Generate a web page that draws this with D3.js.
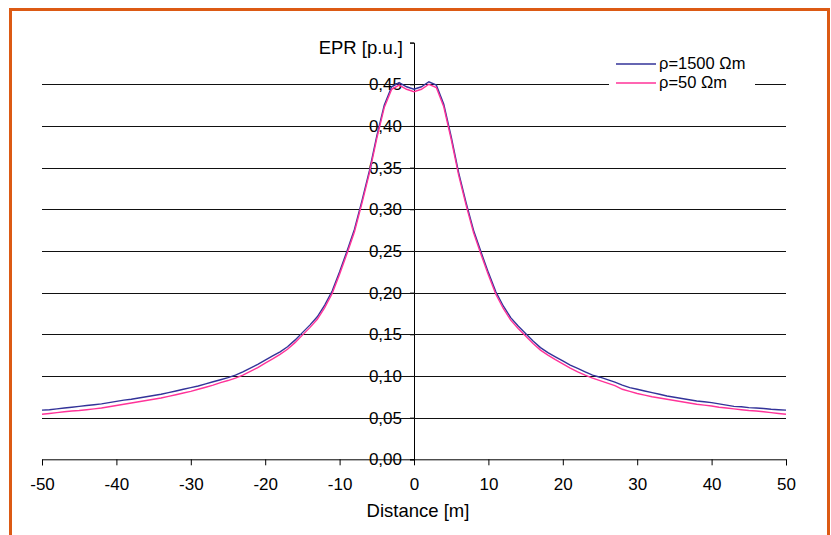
<!DOCTYPE html>
<html>
<head>
<meta charset="utf-8">
<script src="https://cdn.jsdelivr.net/npm/d3@7"></script>
<style>
  html, body { margin: 0; padding: 0; background: #fff; }
  svg { display: block; font-family: "Liberation Sans", Arial, sans-serif; }
</style>
</head>
<body>
<svg id="chart" width="831" height="535"></svg>
<script>
// distance from the electrode [m], one sample per metre
const distance = d3.range(-50, 51);

// EPR [p.u.] for rho = 1500 ohm-m
const epr1500 = [
  0.059, 0.0595, 0.0605, 0.0615, 0.0625, 0.0635, 0.0645, 0.0655, 0.0665, 0.068,
  0.0695, 0.071, 0.072, 0.0735, 0.075, 0.0765, 0.078, 0.080, 0.082, 0.084,
  0.086, 0.088, 0.0905, 0.093, 0.0955, 0.098, 0.101, 0.105, 0.1095, 0.114,
  0.119, 0.124, 0.129, 0.135, 0.143, 0.152, 0.161, 0.171, 0.185, 0.202,
  0.225, 0.250, 0.276, 0.310, 0.346, 0.388, 0.425, 0.447, 0.452, 0.447,
  0.444,
  0.447, 0.453, 0.449, 0.426, 0.387, 0.344, 0.308, 0.275, 0.249, 0.224,
  0.201, 0.184, 0.170, 0.160, 0.151, 0.142, 0.134, 0.128, 0.123, 0.118,
  0.113, 0.109, 0.105, 0.101, 0.0985, 0.0955, 0.0925, 0.089, 0.086, 0.084,
  0.082, 0.080, 0.078, 0.076, 0.0745, 0.073, 0.0715, 0.070, 0.069, 0.068,
  0.0665, 0.065, 0.0635, 0.063, 0.062, 0.0615, 0.061, 0.060, 0.0595, 0.059
];

// EPR [p.u.] for rho = 50 ohm-m
const epr50 = [
  0.054, 0.055, 0.056, 0.057, 0.058, 0.0585, 0.0595, 0.0605, 0.0615, 0.063,
  0.0645, 0.066, 0.0675, 0.069, 0.0705, 0.072, 0.0735, 0.0755, 0.0775, 0.0795,
  0.0815, 0.084, 0.0865, 0.089, 0.092, 0.0945, 0.0975, 0.101, 0.1055, 0.110,
  0.1155, 0.1205, 0.126, 0.132, 0.140, 0.149, 0.158, 0.168, 0.182, 0.199,
  0.222, 0.247, 0.273, 0.307, 0.343, 0.385, 0.422, 0.444, 0.449, 0.444,
  0.441,
  0.444, 0.450, 0.446, 0.423, 0.384, 0.341, 0.305, 0.272, 0.246, 0.221,
  0.198, 0.181, 0.167, 0.157, 0.148, 0.139, 0.131, 0.125, 0.1195, 0.1145,
  0.1095, 0.105, 0.101, 0.0975, 0.0945, 0.0915, 0.0885, 0.084, 0.0815, 0.079,
  0.077, 0.075, 0.0735, 0.072, 0.0705, 0.069, 0.0675, 0.066, 0.065, 0.064,
  0.0625, 0.0615, 0.0605, 0.0595, 0.0585, 0.058, 0.057, 0.056, 0.055, 0.054
];

const xTicks = [-50, -40, -30, -20, -10, 0, 10, 20, 30, 40, 50];
const yTicks = [0, 0.05, 0.10, 0.15, 0.20, 0.25, 0.30, 0.35, 0.40, 0.45, 0.50];
const gridValues = [0.05, 0.10, 0.15, 0.20, 0.25, 0.30, 0.35, 0.40, 0.45];

const series = [
  { name: "ρ=1500 Ωm", values: epr1500, color: "#333399" },
  { name: "ρ=50 Ωm", values: epr50, color: "#FF3399" }
];

const svg = d3.select("#chart");

const x = d3.scaleLinear().domain([-50, 50]).range([42, 786]);
const y = d3.scaleLinear().domain([0, 0.5]).range([459.3, 42.6]);

// orange frame
svg.append("rect")
  .attr("x", 10.5)
  .attr("y", 9.5)
  .attr("width", 818)
  .attr("height", 600)
  .attr("fill", "none")
  .attr("stroke", "#DC5A14")
  .attr("stroke-width", 3);

const fmt = d => d3.format(".2f")(d).replace(".", ",");

// y axis
const yAxis = svg.append("g")
  .attr("transform", `translate(${x(0)},0)`)
  .call(d3.axisLeft(y)
    .tickValues(yTicks)
    .tickSize(4)
    .tickPadding(8)
    .tickFormat(d => d >= 0.5 ? "" : fmt(d)));

yAxis.select(".domain").attr("stroke", "#000");
yAxis.selectAll(".tick line").attr("stroke", "#000");
yAxis.selectAll("text")
  .attr("fill", "#000")
  .style("font-size", "17px")
  .style("font-family", "Liberation Sans, Arial, sans-serif");

svg.append("text")
  .attr("x", 403)
  .attr("y", y(0.5) + 11)
  .attr("text-anchor", "end")
  .style("font-size", "18.5px")
  .text("EPR [p.u.]");

// x axis, hyphen minus like the original
const xAxis = svg.append("g")
  .attr("transform", `translate(0,${y(0)})`)
  .call(d3.axisBottom(x)
    .tickValues(xTicks)
    .tickSize(6)
    .tickPadding(13)
    .tickFormat(d => String(d)));

xAxis.select(".domain").attr("stroke", "#000");
xAxis.selectAll(".tick line").attr("stroke", "#000");
xAxis.selectAll("text")
  .attr("fill", "#000")
  .style("font-size", "17px")
  .style("font-family", "Liberation Sans, Arial, sans-serif");

svg.append("text")
  .attr("x", 418)
  .attr("y", 517)
  .attr("text-anchor", "middle")
  .style("font-size", "18.5px")
  .text("Distance [m]");

// gridlines, drawn across the tick labels like the original
svg.append("g")
  .selectAll("line")
  .data(gridValues)
  .join("line")
  .attr("x1", x(-50))
  .attr("x2", x(50))
  .attr("y1", d => Math.round(y(d)) + 0.5)
  .attr("y2", d => Math.round(y(d)) + 0.5)
  .attr("stroke", "#111")
  .attr("stroke-width", 1);

// curves
const line = d3.line()
  .x((d, i) => x(distance[i]))
  .y(d => y(d));

svg.append("g")
  .selectAll("path")
  .data(series)
  .join("path")
  .attr("d", d => line(d.values))
  .attr("fill", "none")
  .attr("stroke", d => d.color)
  .attr("stroke-width", 1.4);

// legend
const legend = svg.append("g").attr("transform", "translate(609,54)");

legend.append("rect")
  .attr("width", 146)
  .attr("height", 58)
  .attr("fill", "#fff");

const items = legend.selectAll("g")
  .data(series)
  .join("g")
  .attr("transform", (d, i) => `translate(0,${10 + i * 19})`);

items.append("line")
  .attr("x1", 7)
  .attr("x2", 47)
  .attr("stroke", d => d.color)
  .attr("stroke-width", 1.4);

items.append("text")
  .attr("x", 50)
  .attr("y", 5)
  .style("font-size", "16.5px")
  .text(d => d.name);
</script>
</body>
</html>
